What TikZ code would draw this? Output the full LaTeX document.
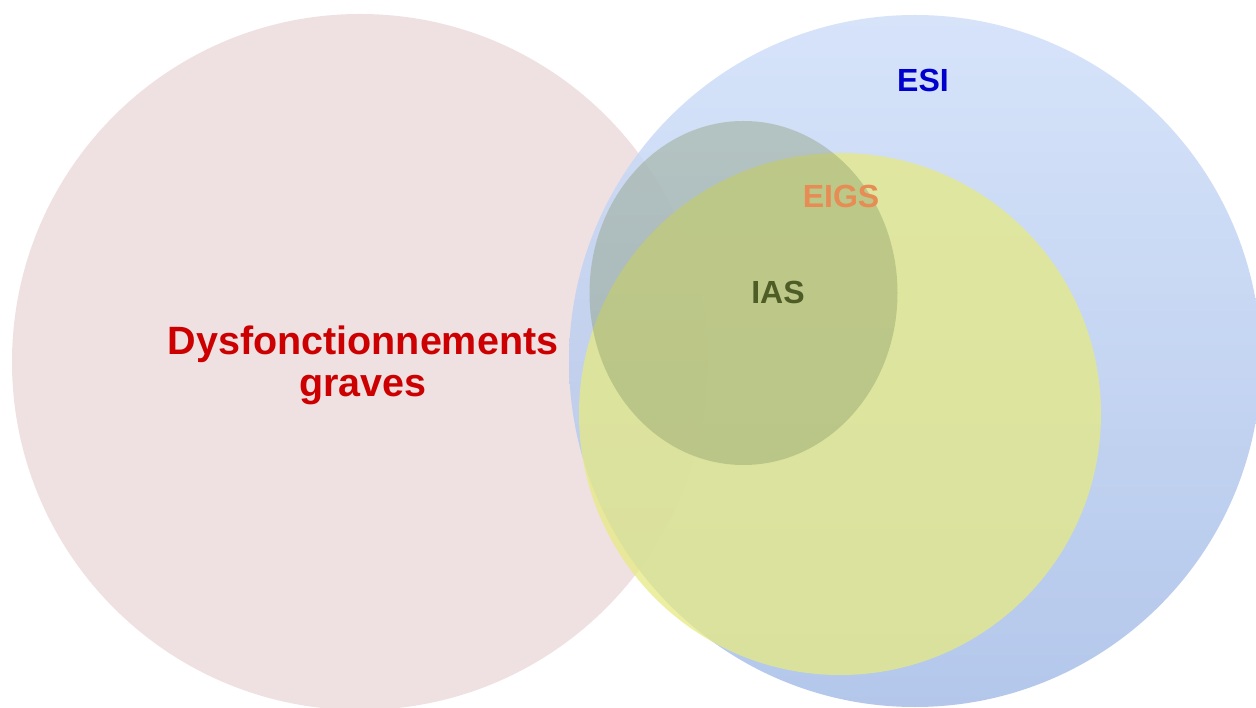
\documentclass[tikz,border=0pt]{standalone}
\usepackage{fontspec}
\setmainfont{Liberation Sans}
\definecolor{pinkc}{RGB}{239,225,225}
\definecolor{bluetop}{RGB}{208,223,249}
\definecolor{bluebot}{RGB}{167,190,232}
\definecolor{yellowc}{RGB}{230,234,131}
\definecolor{greenc}{RGB}{125,145,95}
\definecolor{redtxt}{RGB}{204,0,0}
\definecolor{bluetxt}{RGB}{0,0,204}
\definecolor{orangetxt}{RGB}{230,140,84}
\definecolor{olivetxt}{RGB}{78,92,38}
\tikzset{
  lbl/.style={font=\bfseries\fontsize{32}{36}\selectfont, inner sep=0pt},
  biglbl/.style={font=\bfseries\fontsize{39.5}{42}\selectfont, inner sep=0pt, text=redtxt, anchor=base},
}
\begin{document}
\begin{tikzpicture}[x=1pt,y=-1pt]
\useasboundingbox (0,0) rectangle (1256,708);
\fill[white] (0,0) rectangle (1256,708);
% pink circle
\fill[pinkc] (360,362) circle[radius=348];
% blue circle (ESI)
\shade[top color=bluetop, bottom color=bluebot, fill opacity=0.85] (915,361) circle[radius=346];
% yellow circle (EIGS)
\fill[yellowc, fill opacity=0.75] (840,414) circle[radius=261];
% green circle (IAS)
\fill[greenc, fill opacity=0.35] (743.5,293) ellipse[x radius=154, y radius=172];
% labels
\node[biglbl] (dys) at (363,355) {Dysfonctionnements};
\node[biglbl] (grv) at (363,397) {graves};
\node[lbl, text=bluetxt] (esi) at (923,80) {ESI};
\node[lbl, text=orangetxt] (eigs) at (841,196) {EIGS};
\node[lbl, text=olivetxt] (ias) at (778,292) {IAS};
\end{tikzpicture}
\end{document}
